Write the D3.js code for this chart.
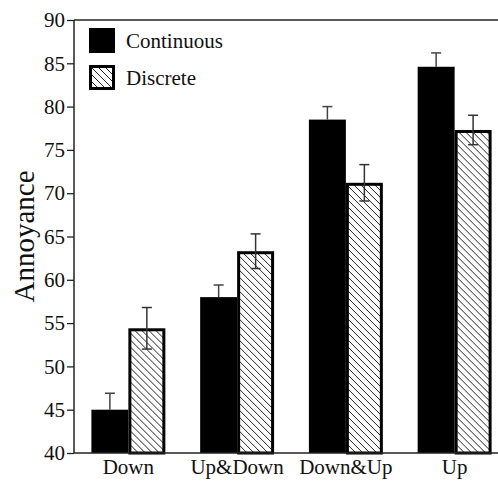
<!DOCTYPE html>
<html>
<head>
<meta charset="utf-8">
<script src="https://cdn.jsdelivr.net/npm/d3@7"></script>
<style>
  body { margin: 0; background: #fff; }
  svg text { font-family: "Liberation Serif", "DejaVu Serif", serif !important; fill: #111; }
</style>
</head>
<body>
<div id="chart"></div>
<script>
// data
var groups = ["Down", "Up&Down", "Down&Up", "Up"];
var series = ["Continuous", "Discrete"];
var continuous = [45.0, 58.0, 78.5, 84.6];
var continuousErr = [1.9, 1.4, 1.5, 1.6];
var discrete = [54.4, 63.3, 71.2, 77.3];
var discreteErr = [2.4, 2.0, 2.1, 1.7];
var yTicks = [40, 45, 50, 55, 60, 65, 70, 75, 80, 85, 90];

function draw() {
    var w = 498;
    var h = 483;
    var left = 74, top = 20, bottom = 453;
    var serif = "'Liberation Serif', serif";

    var svg = d3.select("#chart")
        .append("svg")
        .attr("width", w)
        .attr("height", h);

    // hatch pattern for the discrete bars
    var pat = svg.append("defs").append("pattern")
        .attr("id", "hatch")
        .attr("patternUnits", "userSpaceOnUse")
        .attr("width", 7)
        .attr("height", 7);
    pat.append("rect").attr("width", 7).attr("height", 7).attr("fill", "#fff");
    pat.append("path")
        .attr("d", "M-1,-1 L8,8 M-8,-1 L1,8 M6,-1 L15,8")
        .attr("stroke", "#222")
        .attr("stroke-width", 1);

    var x = d3.scaleBand()
        .domain(groups)
        .range([left, 509])
        .paddingInner(0.32)
        .paddingOuter(0.16);

    var xSub = d3.scaleBand()
        .domain(series)
        .range([0, x.bandwidth()]);

    var y = d3.scaleLinear()
        .domain([40, 90])
        .range([bottom, top]);

    var rows = groups.map(function(g, i) {
        return [
            { group: g, key: "Continuous", value: continuous[i], err: continuousErr[i] },
            { group: g, key: "Discrete", value: discrete[i], err: discreteErr[i] }
        ];
    });

    // bars
    var bars = svg.append("g")
        .selectAll("g")
        .data(rows)
        .enter()
        .append("g")
        .attr("transform", function(d) { return "translate(" + x(d[0].group) + ",0)"; });

    bars.selectAll("rect")
        .data(function(d) { return d; })
        .enter()
        .append("rect")
        .attr("x", function(d) { return xSub(d.key) + (d.key == "Discrete" ? 1.5 : 0); })
        .attr("y", function(d) { return y(d.value) + (d.key == "Discrete" ? 1.5 : 0); })
        .attr("width", function(d) { return xSub.bandwidth() - (d.key == "Discrete" ? 3 : 0); })
        .attr("height", function(d) { return y(40) - y(d.value) - (d.key == "Discrete" ? 1.5 : 0); })
        .attr("fill", function(d) { return d.key == "Discrete" ? "url(#hatch)" : "#000"; })
        .attr("stroke", function(d) { return d.key == "Discrete" ? "#000" : "none"; })
        .attr("stroke-width", 3);

    // error bars
    var eb = bars.selectAll("g.err")
        .data(function(d) { return d; })
        .enter()
        .append("g")
        .attr("class", "err")
        .attr("stroke", function(d) { return d.key == "Discrete" ? "#333" : "#444"; })
        .attr("stroke-width", 1.5);
    eb.append("line")
        .attr("x1", function(d) { return xSub(d.key) + xSub.bandwidth() / 2; })
        .attr("x2", function(d) { return xSub(d.key) + xSub.bandwidth() / 2; })
        .attr("y1", function(d) { return y(d.value + d.err); })
        .attr("y2", function(d) { return d.key == "Discrete" ? y(d.value - d.err) : y(d.value); });
    eb.append("line")
        .attr("x1", function(d) { return xSub(d.key) + xSub.bandwidth() / 2 - 5; })
        .attr("x2", function(d) { return xSub(d.key) + xSub.bandwidth() / 2 + 5; })
        .attr("y1", function(d) { return y(d.value + d.err); })
        .attr("y2", function(d) { return y(d.value + d.err); });
    eb.filter(function(d) { return d.key == "Discrete"; })
        .append("line")
        .attr("x1", function(d) { return xSub(d.key) + xSub.bandwidth() / 2 - 5; })
        .attr("x2", function(d) { return xSub(d.key) + xSub.bandwidth() / 2 + 5; })
        .attr("y1", function(d) { return y(d.value - d.err); })
        .attr("y2", function(d) { return y(d.value - d.err); });

    // y axis
    var yAxis = svg.append("g")
        .attr("transform", "translate(" + left + ",0)")
        .call(d3.axisLeft(y).tickValues(yTicks).tickSize(7).tickPadding(2))
        .attr("font-family", serif)
        .attr("font-size", 21);
    yAxis.selectAll("line").attr("stroke", "#222").attr("stroke-width", 1.3);
    yAxis.select(".domain").attr("stroke", "#222").attr("stroke-width", 1.5)
        .attr("d", "M0," + top + "V" + bottom);

    // x axis
    var xAxis = svg.append("g")
        .attr("transform", "translate(0," + bottom + ")")
        .call(d3.axisBottom(x).tickSize(0).tickPadding(6))
        .attr("font-family", serif)
        .attr("font-size", 21);
    xAxis.select(".domain").attr("stroke", "#222").attr("stroke-width", 1.5)
        .attr("d", "M" + left + ",0H" + w);

    // top frame line
    svg.append("line")
        .attr("x1", left).attr("x2", w)
        .attr("y1", top).attr("y2", top)
        .attr("stroke", "#222")
        .attr("stroke-width", 1.5);

    // y label
    svg.append("text")
        .attr("transform", "translate(34," + (top + bottom) / 2 + ") rotate(-90)")
        .attr("text-anchor", "middle")
        .attr("font-size", 29)
        .text("Annoyance");

    // legend
    var legend = svg.append("g")
        .selectAll("g")
        .data(series)
        .enter()
        .append("g")
        .attr("transform", function(d, i) { return "translate(89," + (28 + i * 37) + ")"; });
    legend.append("rect")
        .attr("x", function(d) { return d == "Discrete" ? 1.5 : 0; })
        .attr("y", function(d) { return d == "Discrete" ? 1.5 : 0; })
        .attr("width", function(d) { return d == "Discrete" ? 23 : 26; })
        .attr("height", function(d) { return d == "Discrete" ? 22 : 25; })
        .attr("fill", function(d) { return d == "Discrete" ? "url(#hatch)" : "#000"; })
        .attr("stroke", function(d) { return d == "Discrete" ? "#000" : "none"; })
        .attr("stroke-width", 3);
    legend.append("text")
        .attr("x", 37)
        .attr("y", 20)
        .attr("font-size", 21)
        .text(function(d) { return d; });
}

window.onload = draw;
</script>
</body>
</html>
